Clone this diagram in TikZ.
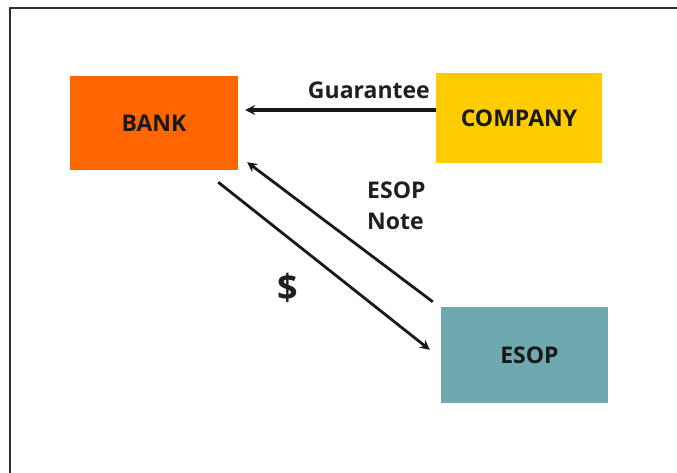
\documentclass[tikz,border=0pt]{standalone}
\usepackage{fontspec}
\setmainfont{Open Sans}
\usetikzlibrary{arrows.meta}
\definecolor{bankc}{HTML}{FF6600}
\definecolor{compc}{HTML}{FFCC00}
\definecolor{esopc}{HTML}{6EA9B0}
\definecolor{framec}{HTML}{2E2E2E}
\tikzset{
  boxnode/.style={draw=none, inner sep=0pt, text=black!90, font=\fontsize{23}{27}\selectfont\bfseries},
  arr/.style={draw=black!90, line width=2.8pt, -{Stealth[length=10pt,width=10pt,inset=3.5pt]}},
  lbl/.style={inner sep=0pt, font=\fontsize{23}{31}\selectfont\bfseries, text=black!88},
  framel/.style={draw=framec, line width=2.2pt}
}
\begin{document}
\begin{tikzpicture}[x=1pt,y=1pt]
\useasboundingbox (0,0) rectangle (677,472);
\clip (0,0) rectangle (677,472);
\fill[white] (0,0) rectangle (677,472);
\draw[framel] (10,-10) -- (10,464) -- (690,464);
\node[boxnode, fill=bankc, minimum width=168pt, minimum height=94pt] (BANK) at (154,349) {BANK};
\node[boxnode, fill=compc, minimum width=166pt, minimum height=90pt] (COMPANY) at (519,354) {COMPANY};
\node[boxnode, fill=esopc, minimum width=167pt, minimum height=96pt] (ESOP) at (524.5,117) {\hspace*{10pt}ESOP};
\coordinate (guarS) at ([yshift=8pt]COMPANY.west);
\coordinate (guarE) at ([xshift=7pt]BANK.east |- guarS);
\coordinate (noteS) at ([shift={(-8pt,5pt)}]ESOP.north west);
\coordinate (noteE) at ([shift={(9pt,8pt)}]BANK.south east);
\coordinate (cashS) at ([shift={(-20pt,-12pt)}]BANK.south east);
\coordinate (cashE) at ([shift={(-11pt,-43pt)}]ESOP.north west);
\draw[arr, line width=3.2pt] (guarS) -- (guarE);
\draw[arr] (noteS) -- (noteE);
\draw[arr] (cashS) -- (cashE);
\node[lbl, anchor=base east] (guar) at (430,373) {Guarantee};
\node[lbl, anchor=north west, align=left] (note) at (367,290) {ESOP\\Note};
\node[lbl, font=\fontsize{36}{40}\selectfont\bfseries] (cash) at (288,184) {\$};
\end{tikzpicture}
\end{document}
